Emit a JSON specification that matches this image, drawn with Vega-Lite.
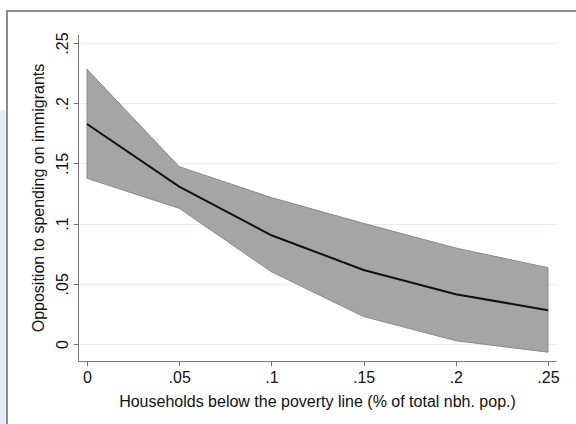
{
  "$schema": "https://vega.github.io/schema/vega-lite/v6.json",
  "width": 478,
  "height": 327,
  "autosize": {"type": "none"},
  "padding": {"left": 78, "top": 34, "right": 20, "bottom": 63},
  "background": "white",
  "config": {"view": {"stroke": null}, "font": "Liberation Sans"},
  "data": {
    "values": [
      {"x": 0, "est": 0.1827, "lo": 0.1376, "hi": 0.2282},
      {"x": 0.05, "est": 0.1307, "lo": 0.1127, "hi": 0.1473},
      {"x": 0.1, "est": 0.0903, "lo": 0.06, "hi": 0.1216},
      {"x": 0.15, "est": 0.0615, "lo": 0.0228, "hi": 0.1002},
      {"x": 0.2, "est": 0.0414, "lo": 0.0027, "hi": 0.0797},
      {"x": 0.25, "est": 0.028, "lo": -0.0068, "hi": 0.0634}
    ]
  },
  "layer": [
    {
      "mark": {"type": "rect", "fill": "#e3edf7"},
      "encoding": {
        "x": {"datum": -0.0472, "type": "quantitative"},
        "x2": {"datum": -0.0434},
        "y": {"datum": 0.1944, "type": "quantitative"},
        "y2": {"datum": -0.0714}
      }
    },
    {
      "mark": {"type": "rect", "fill": null, "stroke": "#8c8c8c", "strokeWidth": 1.5},
      "encoding": {
        "x": {"datum": -0.0434, "type": "quantitative"},
        "x2": {"datum": 0.2674},
        "y": {"datum": 0.2766, "type": "quantitative"},
        "y2": {"datum": -0.0714}
      }
    },
    {
      "mark": {"type": "area", "fill": "#a5a5a5", "stroke": "#8a8a8a", "strokeWidth": 1},
      "encoding": {
        "x": {
          "field": "x",
          "type": "quantitative",
          "scale": {"domain": [-0.00488, 0.25434], "nice": false, "zero": false},
          "axis": {
            "title": "Households below the poverty line (% of total nbh. pop.)",
            "values": [0, 0.05, 0.1, 0.15, 0.2, 0.25],
            "labelExpr": "datum.value === 0 ? '0' : substring(format(datum.value, '.2~f'), 1)",
            "grid": false,
            "domainColor": "#777777",
            "tickColor": "#777777",
            "tickSize": 5,
            "labelFontSize": 16,
            "titleFontSize": 16,
            "titleFontWeight": "normal",
            "labelColor": "#111111",
            "titleColor": "#111111",
            "labelPadding": 3,
            "titlePadding": 8,
            "labelFlush": false
          }
        },
        "y": {
          "field": "lo",
          "type": "quantitative",
          "scale": {"domain": [-0.01412, 0.25748], "nice": false, "zero": false},
          "axis": {
            "title": "Opposition to spending on immigrants",
            "values": [0, 0.05, 0.1, 0.15, 0.2, 0.25],
            "labelExpr": "datum.value === 0 ? '0' : substring(format(datum.value, '.2~f'), 1)",
            "grid": true,
            "gridColor": "#e6eef0",
            "gridWidth": 1,
            "domainColor": "#777777",
            "tickColor": "#777777",
            "tickSize": 5,
            "labelAngle": -90,
            "labelAlign": "center",
            "labelBaseline": "bottom",
            "labelFontSize": 16,
            "titleFontSize": 16,
            "titleFontWeight": "normal",
            "labelColor": "#111111",
            "titleColor": "#111111",
            "labelPadding": 3,
            "titlePadding": 8,
            "labelFlush": false
          }
        },
        "y2": {"field": "hi"}
      }
    },
    {
      "mark": {"type": "line", "color": "#111111", "strokeWidth": 2},
      "encoding": {
        "x": {"field": "x", "type": "quantitative"},
        "y": {"field": "est", "type": "quantitative"}
      }
    }
  ]
}
